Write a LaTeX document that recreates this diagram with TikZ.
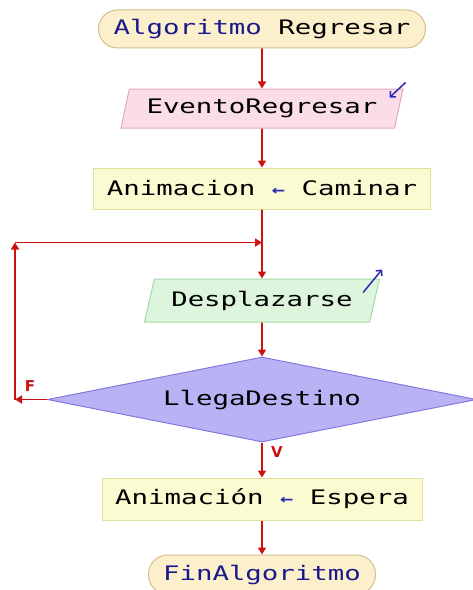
\documentclass[tikz,border=0pt]{standalone}
\usepackage{fontspec}
\setmonofont[FakeStretch=1.37]{DejaVu Sans Mono}
\setsansfont{DejaVu Sans}
\usetikzlibrary{arrows.meta,positioning,shapes.geometric}

\definecolor{termfill}{RGB}{252,240,204}
\definecolor{termdraw}{RGB}{214,190,140}
\definecolor{infill}{RGB}{250,221,232}
\definecolor{indraw}{RGB}{224,168,190}
\definecolor{setfill}{RGB}{251,251,210}
\definecolor{setdraw}{RGB}{225,223,160}
\definecolor{outfill}{RGB}{221,245,221}
\definecolor{outdraw}{RGB}{168,216,168}
\definecolor{askfill}{RGB}{185,179,245}
\definecolor{askdraw}{RGB}{130,120,224}
\definecolor{flowred}{RGB}{204,17,17}
\definecolor{keyblue}{RGB}{26,26,140}
\definecolor{iconblue}{RGB}{43,43,176}

\newcommand{\asignar}{{\color{iconblue}\bfseries\fontsize{16}{16}\selectfont ←}}

\begin{document}
\begin{tikzpicture}[
  font=\ttfamily\fontsize{20}{24}\selectfont,
  node distance=40pt,
  box/.style={draw, line width=1pt, align=center, inner sep=0pt},
  terminal/.style={box, draw=termdraw, fill=termfill, rounded corners=19pt,
    minimum height=38pt},
  assign/.style={box, draw=setdraw, fill=setfill, minimum height=41pt},
  slanted/.style={box, trapezium, trapezium stretches=true},
  input/.style={slanted, draw=indraw, fill=infill},
  output/.style={slanted, draw=outdraw, fill=outfill},
  decision/.style={box, diamond, aspect=5, draw=askdraw, fill=askfill},
  arrow/.style={-{Triangle[length=7pt,width=8pt]}, line width=1.6pt, draw=flowred},
  icon/.style={-{Straight Barb[length=4pt,width=8pt]}, line width=1.5pt, draw=iconblue},
  branch/.style={text=flowred, font=\sffamily\bfseries\fontsize{15}{15}\selectfont}
]
  \useasboundingbox (0,0) rectangle (473pt,590pt);

  \node[terminal, minimum width=327pt] at (262pt,561pt) (start)
    {\textcolor{keyblue}{Algoritmo} Regresar};
  \node[input, trapezium left angle=69, trapezium right angle=111,
    minimum width=283pt, minimum height=39pt, below=of start] (evento)
    {EventoRegresar};
  \node[assign, minimum width=337pt, below=39pt of evento] (caminar)
    {Animacion \asignar{} Caminar};
  \coordinate[below=33pt of caminar] (join);
  \node[output, trapezium left angle=67, trapezium right angle=113,
    minimum width=235pt, minimum height=43pt, below=69pt of caminar] (mover)
    {Desplazarse};
  \node[decision, minimum width=429pt, minimum height=85pt,
    below=34pt of mover] (llega) {LlegaDestino};
  \node[assign, minimum width=320pt, minimum height=42pt,
    below=35pt of llega] (espera)
    {Animación \asignar{} Espera};
  \node[terminal, minimum width=227pt, minimum height=39pt,
    below=34pt of espera] (fin) {\textcolor{keyblue}{FinAlgoritmo}};

  % vuelta del ciclo
  \coordinate[left=247pt of join] (loopT);
  \coordinate (loopL) at (loopT |- llega.west);

  \draw[arrow] (start) -- (evento);
  \draw[arrow] (evento) -- (caminar);
  \draw[arrow] (caminar) -- (mover);
  \draw[arrow] (mover) -- (llega);
  \draw[arrow] (llega.west) -- (loopL);
  \draw[arrow] (loopL) -- (loopT);
  \draw[arrow] (loopT) -- (join);
  \draw[arrow] (llega) -- (espera);
  \draw[arrow] (espera) -- (fin);

  \node[branch] at ([shift={(15pt,13pt)}]loopL) (falso) {F};
  \node[branch] at ([shift={(15pt,-10pt)}]llega.south) (cierto) {V};

  \draw[icon] ([shift={(2pt,6pt)}]evento.top right corner)
    -- ([shift={(-14pt,-9pt)}]evento.top right corner);
  \draw[icon] ([shift={(-17pt,-14pt)}]mover.top right corner)
    -- ([shift={(2pt,9pt)}]mover.top right corner);
\end{tikzpicture}
\end{document}
